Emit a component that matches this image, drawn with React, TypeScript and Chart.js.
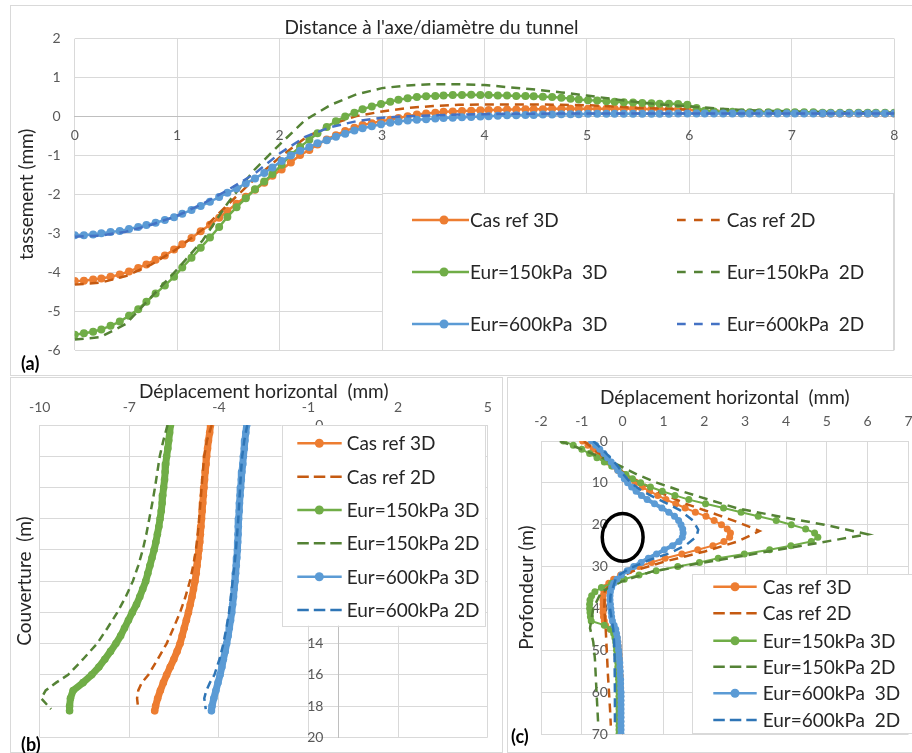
import React, { useEffect, useRef } from "react";
import { Chart, registerables } from "chart.js";

Chart.register(...registerables);

const FONT = "Lato, 'Open Sans', sans-serif";
Chart.defaults.font.family = FONT;

// ---------------- (a) settlement trough ----------------
const A_X_3D = [
  0, 0.09, 0.18, 0.26, 0.35, 0.44, 0.53, 0.62, 0.70, 0.79,
  0.88, 0.97, 1.05, 1.14, 1.23, 1.32, 1.41, 1.49, 1.58, 1.67,
  1.76, 1.85, 1.93, 2.02, 2.11, 2.20, 2.29, 2.37, 2.46, 2.55,
  2.64, 2.73, 2.81, 2.90, 2.99, 3.08, 3.16, 3.25, 3.34, 3.43,
  3.52, 3.60, 3.69, 3.78, 3.87, 3.96, 4.04, 4.13, 4.22, 4.31,
  4.40, 4.48, 4.57, 4.66, 4.75, 4.84, 4.92, 5.01, 5.10, 5.19,
  5.27, 5.36, 5.45, 5.54, 5.63, 5.71, 5.80, 5.89, 5.98, 6.07,
  6.15, 6.24, 6.33, 6.42, 6.51, 6.59, 6.68, 6.77, 6.86, 6.95,
  7.03, 7.12, 7.21, 7.30, 7.38, 7.47, 7.56, 7.65, 7.74, 7.82,
  7.91, 8.00,
];
const A_REF_3D = [
  -4.23, -4.22, -4.19, -4.16, -4.12, -4.06, -3.98, -3.89, -3.80, -3.68,
  -3.57, -3.42, -3.28, -3.12, -2.95, -2.78, -2.60, -2.43, -2.24, -2.06,
  -1.88, -1.70, -1.52, -1.36, -1.18, -0.99, -0.86, -0.72, -0.59, -0.48,
  -0.37, -0.29, -0.22, -0.17, -0.12, -0.08, -0.04, 0.01, 0.05, 0.08,
  0.10, 0.12, 0.13, 0.14, 0.15, 0.16, 0.17, 0.17, 0.18, 0.18,
  0.19, 0.19, 0.19, 0.20, 0.20, 0.20, 0.20, 0.20, 0.20, 0.20,
  0.20, 0.20, 0.20, 0.20, 0.19, 0.19, 0.19, 0.19, 0.18, 0.15,
  0.12, 0.11, 0.10, 0.10, 0.09, 0.09, 0.09, 0.09, 0.09, 0.09,
  0.09, 0.09, 0.09, 0.08, 0.08, 0.08, 0.08, 0.08, 0.08, 0.08,
  0.08, 0.08,
];
const A_E150_3D = [
  -5.61, -5.57, -5.53, -5.47, -5.38, -5.27, -5.12, -4.95, -4.76, -4.55,
  -4.34, -4.12, -3.88, -3.63, -3.37, -3.11, -2.84, -2.58, -2.33, -2.10,
  -1.87, -1.67, -1.48, -1.24, -0.98, -0.78, -0.60, -0.43, -0.27, -0.12,
  0.00, 0.10, 0.19, 0.26, 0.32, 0.38, 0.43, 0.47, 0.50, 0.52,
  0.53, 0.54, 0.55, 0.55, 0.56, 0.55, 0.55, 0.54, 0.54, 0.53,
  0.53, 0.52, 0.51, 0.50, 0.48, 0.46, 0.44, 0.42, 0.41, 0.39,
  0.38, 0.37, 0.36, 0.35, 0.34, 0.33, 0.33, 0.32, 0.30, 0.22,
  0.15, 0.13, 0.12, 0.12, 0.11, 0.11, 0.11, 0.11, 0.11, 0.11,
  0.11, 0.11, 0.11, 0.10, 0.10, 0.10, 0.10, 0.10, 0.10, 0.10,
  0.10, 0.10,
];
const A_E600_3D = [
  -3.05, -3.05, -3.03, -3.00, -2.97, -2.94, -2.89, -2.84, -2.79, -2.73,
  -2.66, -2.59, -2.50, -2.40, -2.30, -2.19, -2.07, -1.96, -1.85, -1.72,
  -1.59, -1.45, -1.31, -1.14, -1.00, -0.88, -0.78, -0.69, -0.61, -0.52,
  -0.44, -0.36, -0.30, -0.25, -0.20, -0.16, -0.13, -0.10, -0.08, -0.07,
  -0.05, -0.04, -0.03, -0.02, -0.01, 0.00, 0.01, 0.02, 0.03, 0.03,
  0.04, 0.04, 0.05, 0.05, 0.06, 0.06, 0.06, 0.07, 0.07, 0.07,
  0.07, 0.07, 0.07, 0.07, 0.07, 0.07, 0.07, 0.08, 0.08, 0.08,
  0.08, 0.08, 0.08, 0.08, 0.08, 0.08, 0.08, 0.08, 0.08, 0.08,
  0.08, 0.08, 0.08, 0.08, 0.08, 0.08, 0.08, 0.08, 0.08, 0.08,
  0.08, 0.08,
];
const A_X_2D = [0, 0.25, 0.5, 0.75, 1, 1.25, 1.5, 1.75, 2, 2.25, 2.5, 2.75, 3, 3.25, 3.5, 3.75, 4, 4.25, 4.5, 4.75, 5, 5.25, 5.5, 5.75, 6, 6.25, 6.5, 6.75, 7, 7.25, 7.5, 7.75, 8];
const A_REF_2D = [-4.32, -4.27, -4.10, -3.80, -3.40, -2.90, -2.25, -1.62, -1.05, -0.55, -0.20, 0.01, 0.13, 0.22, 0.27, 0.30, 0.31, 0.31, 0.31, 0.30, 0.29, 0.26, 0.22, 0.20, 0.18, 0.15, 0.13, 0.12, 0.11, 0.10, 0.10, 0.09, 0.09];
const A_E150_2D = [-5.73, -5.67, -5.33, -4.63, -3.93, -3.18, -2.20, -1.38, -0.72, -0.09, 0.30, 0.57, 0.73, 0.80, 0.83, 0.83, 0.81, 0.75, 0.69, 0.62, 0.54, 0.45, 0.37, 0.30, 0.26, 0.21, 0.17, 0.15, 0.13, 0.12, 0.11, 0.11, 0.10];
const A_E600_2D = [-3.09, -3.06, -2.96, -2.78, -2.55, -2.24, -1.88, -1.48, -0.95, -0.52, -0.27, -0.12, -0.03, 0.01, 0.03, 0.05, 0.06, 0.07, 0.07, 0.08, 0.08, 0.08, 0.08, 0.08, 0.08, 0.08, 0.08, 0.08, 0.08, 0.08, 0.08, 0.08, 0.08];

// ---------------- (b) horizontal displacement over cover ----------------
const B_DEPTH_3D = [0, 0.5, 1, 1.5, 2, 2.5, 3, 3.5, 4, 4.5, 5, 5.5, 6, 6.5, 7, 7.5, 8, 8.5, 9, 9.5, 10, 10.5, 11, 11.5, 12, 12.5, 13, 13.5, 14, 14.5, 15, 15.5, 16, 16.5, 17, 17.5, 18, 18.3];
const B_REF_3D = [-4.28, -4.31, -4.35, -4.38, -4.41, -4.43, -4.46, -4.48, -4.50, -4.52, -4.54, -4.56, -4.58, -4.60, -4.62, -4.64, -4.67, -4.70, -4.73, -4.76, -4.80, -4.85, -4.90, -4.96, -5.02, -5.09, -5.16, -5.23, -5.30, -5.40, -5.51, -5.63, -5.75, -5.86, -5.96, -6.05, -6.12, -6.15];
const B_E150_3D = [-5.62, -5.65, -5.68, -5.71, -5.75, -5.78, -5.80, -5.82, -5.85, -5.88, -5.90, -5.93, -5.97, -6.01, -6.06, -6.11, -6.17, -6.24, -6.31, -6.38, -6.45, -6.55, -6.65, -6.76, -6.90, -7.03, -7.16, -7.29, -7.45, -7.63, -7.82, -8.02, -8.26, -8.55, -8.88, -8.97, -9.00, -9.00];
const B_E600_3D = [-3.07, -3.10, -3.13, -3.15, -3.18, -3.20, -3.23, -3.25, -3.27, -3.29, -3.31, -3.32, -3.34, -3.35, -3.36, -3.37, -3.38, -3.40, -3.42, -3.44, -3.46, -3.49, -3.51, -3.54, -3.57, -3.61, -3.65, -3.69, -3.74, -3.79, -3.85, -3.90, -3.96, -4.03, -4.10, -4.17, -4.23, -4.25];
const B_DEPTH_2D = [0, 1, 2, 3, 4, 5, 6, 7, 8, 9, 10, 11, 12, 13, 14, 15, 16, 16.5, 17, 17.5, 18.2];
const B_REF_2D = [-4.24, -4.40, -4.49, -4.54, -4.58, -4.62, -4.66, -4.71, -4.77, -4.86, -4.97, -5.12, -5.30, -5.52, -5.75, -6.05, -6.36, -6.58, -6.70, -6.74, -6.70];
const B_E150_2D = [-5.72, -5.86, -5.98, -6.06, -6.14, -6.23, -6.33, -6.43, -6.55, -6.70, -6.88, -7.12, -7.40, -7.73, -8.08, -8.55, -9.05, -9.45, -9.80, -9.95, -9.62];
const B_E600_2D = [-3.05, -3.15, -3.22, -3.26, -3.29, -3.32, -3.35, -3.39, -3.43, -3.48, -3.54, -3.60, -3.66, -3.75, -3.85, -3.98, -4.15, -4.30, -4.42, -4.49, -4.44];

// ---------------- (c) horizontal displacement over depth ----------------
const C_DEPTH_3D = [
  0, 1, 2, 3, 4, 5, 6, 7, 8, 9, 10, 11, 12, 13, 14, 15, 16, 17, 18, 19,
  20, 21, 22, 23, 24, 25, 26, 27, 28, 29, 30, 31, 32, 33, 34, 35, 36, 37, 38, 39,
  40, 41, 42, 43, 44, 45, 46, 47, 48, 49, 50, 51, 52, 53, 54, 55, 56, 57, 58, 59,
  60, 61, 62, 63, 64, 65, 66, 67, 68, 69, 70,
];
const C_REF_3D = [
  -0.98, -0.85, -0.72, -0.60, -0.48, -0.36, -0.24, -0.12, 0.02, 0.15,
  0.30, 0.48, 0.66, 0.86, 1.06, 1.30, 1.53, 1.78, 2.04, 2.24,
  2.42, 2.56, 2.64, 2.62, 2.48, 2.21, 1.84, 1.45, 1.04, 0.71,
  0.40, 0.16, -0.05, -0.22, -0.34, -0.42, -0.46, -0.48, -0.48, -0.48,
  -0.48, -0.48, -0.47, -0.45, -0.42, -0.30, -0.18, -0.14, -0.12, -0.11,
  -0.10, -0.09, -0.08, -0.08, -0.07, -0.07, -0.06, -0.06, -0.06, -0.05,
  -0.05, -0.05, -0.05, -0.05, -0.05, -0.05, -0.05, -0.05, -0.05, -0.05,
  -0.05,
];
const C_E150_3D = [
  -1.45, -1.21, -1.00, -0.81, -0.63, -0.45, -0.27, -0.10, 0.08, 0.24,
  0.44, 0.68, 0.97, 1.28, 1.62, 2.03, 2.47, 2.90, 3.32, 3.76,
  4.13, 4.48, 4.70, 4.78, 4.62, 4.12, 3.60, 2.98, 2.34, 1.88,
  1.35, 0.82, 0.40, 0.04, -0.27, -0.52, -0.68, -0.76, -0.80, -0.81,
  -0.81, -0.80, -0.79, -0.77, -0.45, -0.30, -0.22, -0.19, -0.17, -0.16,
  -0.15, -0.14, -0.13, -0.12, -0.12, -0.11, -0.11, -0.10, -0.10, -0.10,
  -0.09, -0.09, -0.09, -0.09, -0.09, -0.09, -0.09, -0.09, -0.09, -0.09,
  -0.09,
];
const C_E600_3D = [
  -0.76, -0.66, -0.56, -0.46, -0.37, -0.28, -0.20, -0.12, -0.04, 0.04,
  0.12, 0.22, 0.33, 0.46, 0.60, 0.78, 0.96, 1.13, 1.27, 1.37,
  1.43, 1.47, 1.48, 1.46, 1.38, 1.22, 1.02, 0.83, 0.63, 0.45,
  0.27, 0.11, -0.03, -0.14, -0.22, -0.27, -0.30, -0.31, -0.31, -0.30,
  -0.29, -0.28, -0.27, -0.25, -0.21, -0.17, -0.15, -0.13, -0.12, -0.11,
  -0.10, -0.09, -0.08, -0.07, -0.07, -0.06, -0.06, -0.05, -0.05, -0.05,
  -0.04, -0.04, -0.04, -0.04, -0.04, -0.04, -0.04, -0.04, -0.04, -0.04,
  -0.04,
];
const C_REF_2D_DEPTH = [0, 2, 4, 6, 8, 10, 12, 14.9, 17.7, 19.5, 21.5, 24, 26.4, 28.8, 31.2, 33.6, 36, 40, 44, 48, 56, 64, 68];
const C_REF_2D = [-0.95, -0.70, -0.45, -0.20, 0.10, 0.45, 0.85, 1.52, 2.34, 2.85, 3.35, 2.82, 2.01, 1.03, 0.22, -0.27, -0.44, -0.45, -0.42, -0.40, -0.36, -0.31, -0.29];
const C_E150_2D_DEPTH = [0, 2, 4, 6, 8, 10, 12, 14, 16, 18, 20, 22.3, 25, 27.6, 29.6, 31.2, 33.6, 36, 40, 44.7, 48, 52, 60, 67.5];
const C_E150_2D = [-1.54, -1.00, -0.50, -0.05, 0.35, 0.85, 1.45, 2.10, 2.78, 3.80, 4.94, 6.00, 4.40, 2.85, 1.65, 0.71, -0.03, -0.52, -0.72, -0.80, -0.72, -0.68, -0.64, -0.60];
const C_E600_2D_DEPTH = [0, 2, 4, 6, 8, 10, 12.1, 14.5, 16.5, 19, 21.2, 22.8, 24.8, 26.8, 28.4, 30.4, 32.4, 34.8, 37, 40, 45, 50, 60, 67.5];
const C_E600_2D = [-0.72, -0.50, -0.30, -0.12, 0.02, 0.20, 0.50, 0.99, 1.40, 1.72, 1.85, 1.81, 1.56, 1.15, 0.66, 0.18, -0.15, -0.23, -0.30, -0.31, -0.23, -0.20, -0.19, -0.19];

// tunnel outline in (c): centre depth (m), half width (mm axis units), half height (m)
const TUNNEL_DEPTH = 23;
const TUNNEL_HALF_W = 0.5;
const TUNNEL_HALF_H = 5.7;

const LABELS_A = ["Cas ref 3D", "Cas ref 2D", "Eur=150kPa  3D", "Eur=150kPa  2D", "Eur=600kPa  3D", "Eur=600kPa  2D"];
const LABELS_B = ["Cas ref 3D", "Cas ref 2D", "Eur=150kPa 3D", "Eur=150kPa 2D", "Eur=600kPa 3D", "Eur=600kPa 2D"];
const LABELS_C = ["Cas ref 3D", "Cas ref 2D", "Eur=150kPa 3D", "Eur=150kPa 2D", "Eur=600kPa  3D", "Eur=600kPa  2D"];

const ORANGE = "#ED7D31";
const ORANGE_D = "#C55A11";
const GREEN = "#70AD47";
const GREEN_D = "#548235";
const BLUE = "#5B9BD5";
const BLUE_DA = "#4472C4";
const BLUE_D = "#2E75B6";
const GRID = "#D9D9D9";
const AXIS = "#BFBFBF";
const TICK = "#595959";
const TEXT = "#262626";

const xy = (xs: number[], ys: number[]) => xs.map((x, i) => ({ x, y: ys[i] }));

function solidDs(label: string, color: string, data: any[], idx: number, lw: number, r: number) {
  return {
    label, data, borderColor: color, backgroundColor: color, borderWidth: lw,
    pointRadius: r, pointHoverRadius: r, pointBackgroundColor: color, pointBorderColor: color, pointBorderWidth: 0,
    borderCapStyle: "round", borderJoinStyle: "round",
    tension: 0, fill: false, order: 10 - idx, xAxisID: "x", yAxisID: "y",
  };
}
function dashDs(label: string, color: string, data: any[], idx: number, lw: number, dash: number[]) {
  return {
    label, data, borderColor: color, backgroundColor: color, borderWidth: lw, borderDash: dash,
    pointRadius: 0, pointHoverRadius: 0, tension: 0, fill: false, order: 10 - idx, xAxisID: "x", yAxisID: "y",
  };
}

const boxLegendPlugin = {
  id: "boxLegend",
  afterDraw(chart: any, _args: any, opts: any) {
    if (!opts || !opts.entries) return;
    const ctx = chart.ctx;
    ctx.save();
    const [bx, by, bw, bh] = opts.box;
    ctx.fillStyle = "#ffffff";
    ctx.fillRect(bx, by, bw, bh);
    ctx.strokeStyle = GRID;
    ctx.lineWidth = 1;
    ctx.strokeRect(Math.round(bx) + 0.5, Math.round(by) + 0.5, Math.round(bw), Math.round(bh));
    ctx.font = `${opts.fontSize}px ${FONT}`;
    ctx.textBaseline = "middle";
    ctx.textAlign = "left";
    opts.entries.forEach((e: any) => {
      const ds = chart.data.datasets[e.ds];
      const col = opts.cols[e.col];
      const y = opts.rows[e.row];
      ctx.strokeStyle = ds.borderColor;
      ctx.lineWidth = opts.lineWidth;
      ctx.setLineDash(ds.borderDash ? opts.dash : []);
      ctx.beginPath();
      ctx.moveTo(col.x0, y);
      ctx.lineTo(col.x1, y);
      ctx.stroke();
      ctx.setLineDash([]);
      if (ds.pointRadius > 0) {
        ctx.fillStyle = ds.borderColor;
        ctx.beginPath();
        ctx.arc(col.mx, y, opts.markerR, 0, Math.PI * 2);
        ctx.fill();
      }
      ctx.fillStyle = TEXT;
      ctx.fillText(ds.label, col.tx, y + 1);
    });
    ctx.restore();
  },
};

const panelTextPlugin = {
  id: "panelText",
  afterDraw(chart: any, _args: any, opts: any) {
    if (!opts || !opts.items) return;
    const ctx = chart.ctx;
    ctx.save();
    opts.items.forEach((t: any) => {
      ctx.font = `${t.size}px ${FONT}`;
      ctx.fillStyle = t.color;
      ctx.textAlign = "center";
      ctx.textBaseline = "middle";
      ctx.fillText(t.text, t.x, t.y);
    });
    ctx.restore();
  },
};

const tunnelPlugin = {
  id: "tunnel",
  afterDatasetsDraw(chart: any) {
    const xs = chart.scales.x;
    const ys = chart.scales.y;
    const cx = xs.getPixelForValue(0);
    const cy = ys.getPixelForValue(TUNNEL_DEPTH);
    const rx = Math.abs(xs.getPixelForValue(TUNNEL_HALF_W) - cx);
    const ry = Math.abs(ys.getPixelForValue(TUNNEL_DEPTH + TUNNEL_HALF_H) - cy);
    const ctx = chart.ctx;
    ctx.save();
    ctx.strokeStyle = "#000000";
    ctx.lineWidth = 3.5;
    ctx.beginPath();
    ctx.ellipse(cx, cy, rx, ry, 0, 0, Math.PI * 2);
    ctx.stroke();
    ctx.restore();
  },
};

const tickFont = { size: 14, family: FONT };
const titleFont = { size: 19, family: FONT };

function fixSize(w?: number, h?: number) {
  return (s: any) => {
    if (w !== undefined) s.width = w;
    if (h !== undefined) s.height = h;
    s.paddingLeft = 0;
    s.paddingRight = 0;
    s.paddingTop = 0;
    s.paddingBottom = 0;
  };
}

function makeA(): any {
  const datasets = [
    solidDs(LABELS_A[0], ORANGE, xy(A_X_3D, A_REF_3D), 0, 2.5, 4),
    dashDs(LABELS_A[1], ORANGE_D, xy(A_X_2D, A_REF_2D), 1, 2.5, [9, 6]),
    solidDs(LABELS_A[2], GREEN, xy(A_X_3D, A_E150_3D), 2, 2.5, 4),
    dashDs(LABELS_A[3], GREEN_D, xy(A_X_2D, A_E150_2D), 3, 2.5, [9, 6]),
    solidDs(LABELS_A[4], BLUE, xy(A_X_3D, A_E600_3D), 4, 2.5, 4),
    dashDs(LABELS_A[5], BLUE_DA, xy(A_X_2D, A_E600_2D), 5, 2.5, [9, 6]),
  ];
  return {
    type: "line",
    data: { datasets },
    plugins: [boxLegendPlugin, panelTextPlugin],
    options: {
      responsive: false, animation: false, devicePixelRatio: 1,
      layout: { padding: { left: 0, top: 33.7, right: 15.7, bottom: 25 } },
      scales: {
        x: {
          type: "linear", min: 0, max: 8, position: { y: 0 },
          ticks: { stepSize: 1, color: TICK, font: tickFont, padding: 11, maxRotation: 0 },
          grid: { color: GRID, drawTicks: false },
          border: { display: true, color: AXIS },
          afterFit: fixSize(),
        },
        y: {
          type: "linear", min: -6, max: 2, position: "left",
          ticks: { stepSize: 1, color: TICK, font: tickFont, padding: 14 },
          grid: { color: GRID, drawTicks: false },
          border: { display: false },
          title: { display: true, text: "tassement (mm)", color: TEXT, font: titleFont, padding: { top: 5.6, bottom: 0 } },
          afterFit: fixSize(64.7),
        },
      },
      plugins: {
        legend: { display: false },
        tooltip: { enabled: false },
        panelText: { items: [{ text: "Distance à l'axe/diamètre du tunnel", x: 421.5, y: 23, size: 19, color: TEXT }] },
        boxLegend: {
          box: [372, 188, 511, 157],
          fontSize: 19, lineWidth: 2.5, markerR: 4.5, dash: [8.7, 8.3],
          rows: [215, 267, 319],
          cols: [
            { x0: 402, x1: 459, mx: 434, tx: 460 },
            { x0: 667, x1: 710, mx: 688, tx: 716.7 },
          ],
          entries: [
            { ds: 0, col: 0, row: 0 }, { ds: 1, col: 1, row: 0 },
            { ds: 2, col: 0, row: 1 }, { ds: 3, col: 1, row: 1 },
            { ds: 4, col: 0, row: 2 }, { ds: 5, col: 1, row: 2 },
          ],
        },
      },
    },
  };
}

function makeB(): any {
  const datasets = [
    solidDs(LABELS_B[0], ORANGE, xy(B_REF_3D, B_DEPTH_3D), 0, 7, 3.8),
    dashDs(LABELS_B[1], ORANGE_D, xy(B_REF_2D, B_DEPTH_2D), 1, 2.5, [8, 5]),
    solidDs(LABELS_B[2], GREEN, xy(B_E150_3D, B_DEPTH_3D), 2, 7, 3.8),
    dashDs(LABELS_B[3], GREEN_D, xy(B_E150_2D, B_DEPTH_2D), 3, 2.5, [8, 5]),
    solidDs(LABELS_B[4], BLUE, xy(B_E600_3D, B_DEPTH_3D), 4, 7, 3.8),
    dashDs(LABELS_B[5], BLUE_D, xy(B_E600_2D, B_DEPTH_2D), 5, 2.5, [8, 5]),
  ];
  return {
    type: "line",
    data: { datasets },
    plugins: [boxLegendPlugin],
    options: {
      responsive: false, animation: false, devicePixelRatio: 1,
      layout: { padding: { left: 0, top: 0, right: 14.3, bottom: 14.7 } },
      scales: {
        x: {
          type: "linear", min: -10, max: 5, position: "top",
          ticks: { stepSize: 3, color: TICK, font: tickFont, padding: 9.6, maxRotation: 0 },
          grid: { color: GRID, drawTicks: false },
          border: { display: false },
          title: { display: true, text: "Déplacement horizontal  (mm)", color: TEXT, font: titleFont, padding: { top: 3.3, bottom: 0 } },
          afterFit: fixSize(undefined, 48),
        },
        y: {
          axis: "y", type: "linear", min: 0, max: 20, reverse: true, position: { x: -0.5 },
          ticks: { stepSize: 2, color: TICK, font: tickFont },
          grid: { color: GRID, drawTicks: false },
          border: { display: false },
          afterFit: fixSize(),
        },
        y0: {
          axis: "y", type: "linear", min: 0, max: 20, reverse: true, position: { x: 0 },
          ticks: { display: false },
          grid: { display: false, drawTicks: false },
          border: { display: true, color: AXIS },
          afterFit: fixSize(),
        },
        yt: {
          axis: "y", type: "linear", min: 0, max: 1, position: "left",
          ticks: { display: false },
          grid: { display: false, drawTicks: false },
          border: { display: false },
          title: { display: true, text: "Couverture  (m)", color: TEXT, font: titleFont, padding: { top: 3.6, bottom: 0 } },
          afterFit: fixSize(29.7),
        },
      },
      plugins: {
        legend: { display: false },
        tooltip: { enabled: false },
        boxLegend: {
          box: [271.7, 48, 203.3, 200.7],
          fontSize: 19, lineWidth: 2.5, markerR: 4.5, dash: [11.5, 5],
          rows: [66.3, 99.7, 133, 166.3, 199.7, 233],
          cols: [{ x0: 287.3, x1: 331.7, mx: 309.3, tx: 336.7 }],
          entries: [0, 1, 2, 3, 4, 5].map((i) => ({ ds: i, col: 0, row: i })),
        },
      },
    },
  };
}

function makeC(): any {
  const datasets = [
    solidDs(LABELS_C[0], ORANGE, xy(C_REF_3D, C_DEPTH_3D), 0, 2, 3.5),
    dashDs(LABELS_C[1], ORANGE_D, xy(C_REF_2D, C_REF_2D_DEPTH), 1, 2.5, [9, 6]),
    solidDs(LABELS_C[2], GREEN, xy(C_E150_3D, C_DEPTH_3D), 2, 2, 3.5),
    dashDs(LABELS_C[3], GREEN_D, xy(C_E150_2D, C_E150_2D_DEPTH), 3, 2.5, [9, 6]),
    solidDs(LABELS_C[4], BLUE, xy(C_E600_3D, C_DEPTH_3D), 4, 4, 3.5),
    dashDs(LABELS_C[5], BLUE_D, xy(C_E600_2D, C_E600_2D_DEPTH), 5, 2.5, [9, 6]),
  ];
  return {
    type: "line",
    data: { datasets },
    plugins: [tunnelPlugin, boxLegendPlugin],
    options: {
      responsive: false, animation: false, devicePixelRatio: 1,
      layout: { padding: { left: 0, top: 0, right: 3, bottom: 18 } },
      scales: {
        x: {
          type: "linear", min: -2, max: 7, position: "top",
          ticks: { stepSize: 1, color: TICK, font: tickFont, padding: 10.9, maxRotation: 0 },
          grid: { color: GRID, drawTicks: false },
          border: { display: false },
          title: { display: true, text: "Déplacement horizontal  (mm)", color: TEXT, font: titleFont, padding: { top: 9.3, bottom: 0 } },
          afterFit: fixSize(undefined, 64),
        },
        y: {
          axis: "y", type: "linear", min: 0, max: 70, reverse: true, position: { x: -0.36 },
          ticks: { stepSize: 10, color: TICK, font: tickFont },
          grid: { color: GRID, drawTicks: false },
          border: { display: false },
          afterFit: fixSize(),
        },
        y0: {
          axis: "y", type: "linear", min: 0, max: 70, reverse: true, position: { x: 0 },
          ticks: { display: false },
          grid: { display: false, drawTicks: false },
          border: { display: true, color: AXIS },
          afterFit: fixSize(),
        },
        yt: {
          axis: "y", type: "linear", min: 0, max: 1, position: "left",
          ticks: { display: false },
          grid: { display: false, drawTicks: false },
          border: { display: false },
          title: { display: true, text: "Profondeur (m)", color: TEXT, font: titleFont, padding: { top: 10.3, bottom: 0 } },
          afterFit: fixSize(36),
        },
      },
      plugins: {
        legend: { display: false },
        tooltip: { enabled: false },
        boxLegend: {
          box: [187, 197, 240, 159],
          fontSize: 19, lineWidth: 2.5, markerR: 4.5, dash: [11.5, 5],
          rows: [209.7, 236.3, 263.7, 289.7, 316.3, 343],
          cols: [{ x0: 208.3, x1: 251.7, mx: 230, tx: 257.7 }],
          entries: [0, 1, 2, 3, 4, 5].map((i) => ({ ds: i, col: 0, row: i })),
        },
      },
    },
  };
}

function ChartCanvas(props: { make: () => any; left: number; top: number; width: number; height: number }) {
  const ref = useRef<HTMLCanvasElement>(null);
  useEffect(() => {
    const chart = new Chart(ref.current as HTMLCanvasElement, props.make());
    return () => chart.destroy();
  }, []);
  return (
    <canvas
      ref={ref}
      width={props.width}
      height={props.height}
      style={{ position: "absolute", left: props.left, top: props.top, width: props.width, height: props.height }}
    />
  );
}

const panelBorder = (left: number, top: number, width: number, height: number): React.CSSProperties => ({
  position: "absolute", left, top, width, height, border: `1px solid ${GRID}`, boxSizing: "border-box",
});

const tag = (left: number, top: number): React.CSSProperties => ({
  position: "absolute", left, top, font: `bold 18px ${FONT}`, color: "#000", lineHeight: "18px", whiteSpace: "nowrap",
});

export default function App() {
  return (
    <div style={{ position: "absolute", left: 0, top: 0, width: 912, height: 753, background: "#ffffff", overflow: "hidden" }}>
      <div style={panelBorder(10, 5, 930, 371)} />
      <div style={panelBorder(10, 377, 493, 376)} />
      <div style={panelBorder(507, 377, 430, 376)} />
      <ChartCanvas make={makeA} left={10} top={5} width={900} height={370} />
      <ChartCanvas make={makeB} left={10} top={377} width={492} height={375} />
      <ChartCanvas make={makeC} left={505} top={377} width={407} height={375} />
      <div style={tag(21, 354)}>(a)</div>
      <div style={tag(21, 735)}>(b)</div>
      <div style={tag(511, 727)}>(c)</div>
    </div>
  );
}
